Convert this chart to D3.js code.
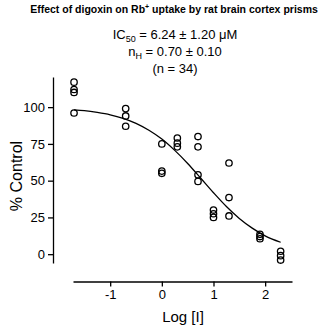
<!DOCTYPE html>
<html>
<head>
<meta charset="utf-8">
<script src="https://cdn.jsdelivr.net/npm/d3@7"></script>
<style>
  html, body { margin: 0; padding: 0; background: #fff; }
  svg { display: block; font-family: "Liberation Sans", Arial, sans-serif; }
</style>
</head>
<body>
<div id="chart"></div>
<script>
  // log concentration of digoxin (µM) for each observation, and % control uptake
  const obsLogDose = [-1.7, -1.7, -1.7, -1.7, -0.7, -0.7, -0.7, 0, 0, 0,
                      0.3, 0.3, 0.3, 0.7, 0.7, 0.7, 0.7, 1, 1, 1,
                      1.3, 1.3, 1.3, 1.9, 1.9, 1.9, 2.3, 2.3, 2.3];
  const obsControl = [117, 112, 110, 96, 99, 94, 87, 75, 56.5, 55,
                      79, 75.5, 73, 80, 73, 54, 49.5, 30, 27.5, 25,
                      62, 38.5, 26, 13.5, 12, 10.5, 2, -1, -4];

  // fitted curve
  const fitLogDose = [-1.7, -1.5, -1.25, -1, -0.75, -0.5, -0.25, 0, 0.25, 0.5,
                      0.75, 1, 1.25, 1.5, 1.75, 2, 2.3];
  const fitControl = [98.2, 97.6, 96.4, 94.8, 92.4, 89.0, 84.3, 78.3, 70.6, 61.7,
                      51.8, 41.8, 32.4, 24.3, 17.7, 12.5, 8.1];

  const xTicks = [-1, 0, 1, 2];
  const yTicks = [0, 25, 50, 75, 100];

  const W = 331, H = 326;
  const svg = d3.select('#chart').append('svg')
    .attr('width', W).attr('height', H);

  const x = d3.scaleLinear().domain([-1.72, 2.52]).range([73, 292]);
  const y = d3.scaleLinear().domain([-6, 120.5]).range([263, 77]);
  const axisX0 = 53, axisY0 = 281.5;

  // ── Titles ──────────────────────────────────────────────
  const title = svg.append('text')
    .attr('x', 174).attr('y', 13)
    .attr('text-anchor', 'middle')
    .attr('font-size', 10.5).attr('font-weight', 'bold');
  title.append('tspan').text('Effect of digoxin on Rb');
  title.append('tspan').attr('dy', -4).attr('font-size', 7).text('+');
  title.append('tspan').attr('dy', 4).text(' uptake by rat brain cortex prisms');

  const l1 = svg.append('text').attr('x', 175).attr('y', 39)
    .attr('text-anchor', 'middle').attr('font-size', 13);
  l1.append('tspan').text('IC');
  l1.append('tspan').attr('dy', 3).attr('font-size', 9).text('50');
  l1.append('tspan').attr('dy', -3).text(' = 6.24 \u00b1 1.20 \u03bcM');

  const l2 = svg.append('text').attr('x', 175).attr('y', 56)
    .attr('text-anchor', 'middle').attr('font-size', 13);
  l2.append('tspan').text('n');
  l2.append('tspan').attr('dy', 3).attr('font-size', 9).text('H');
  l2.append('tspan').attr('dy', -3).text(' = 0.70 \u00b1 0.10');

  svg.append('text').attr('x', 175).attr('y', 73)
    .attr('text-anchor', 'middle').attr('font-size', 13)
    .text('(n = 34)');

  // ── Axes ────────────────────────────────────────────────
  const yAxis = svg.append('g')
    .attr('transform', `translate(${axisX0},0)`)
    .call(d3.axisLeft(y).tickValues(yTicks).tickSize(5).tickSizeOuter(0).tickPadding(3));

  const xAxis = svg.append('g')
    .attr('transform', `translate(0,${axisY0})`)
    .call(d3.axisBottom(x).tickValues(xTicks).tickSize(5).tickSizeOuter(0).tickPadding(3)
      .tickFormat(d3.format('d')));

  [yAxis, xAxis].forEach(ax => {
    ax.selectAll('path, line').attr('stroke', '#000').attr('stroke-width', 1.3);
    ax.selectAll('text').attr('font-size', 13).attr('fill', '#000')
      .attr('font-family', '"Liberation Sans", Arial, sans-serif');
  });
  xAxis.selectAll('text').text(d => d < 0 ? '-' + Math.abs(d) : d);

  svg.append('text')
    .attr('transform', `translate(22,176) rotate(-90)`)
    .attr('text-anchor', 'middle').attr('font-size', 16)
    .text('% Control');

  svg.append('text')
    .attr('x', 183).attr('y', 322)
    .attr('text-anchor', 'middle').attr('font-size', 15)
    .text('Log [I]');

  // ── Fitted curve ────────────────────────────────────────
  const line = d3.line()
    .x((d, i) => x(fitLogDose[i]))
    .y(d => y(d))
    .curve(d3.curveMonotoneX);

  svg.append('path')
    .datum(fitControl)
    .attr('d', line)
    .attr('fill', 'none')
    .attr('stroke', '#000')
    .attr('stroke-width', 1.3);

  // ── Observations ────────────────────────────────────────
  svg.selectAll('.dot')
    .data(obsControl)
    .enter().append('circle')
    .attr('class', 'dot')
    .attr('cx', (d, i) => x(obsLogDose[i]))
    .attr('cy', d => y(d))
    .attr('r', 3.2)
    .attr('fill', 'none')
    .attr('stroke', '#000')
    .attr('stroke-width', 1.3);
</script>
</body>
</html>
